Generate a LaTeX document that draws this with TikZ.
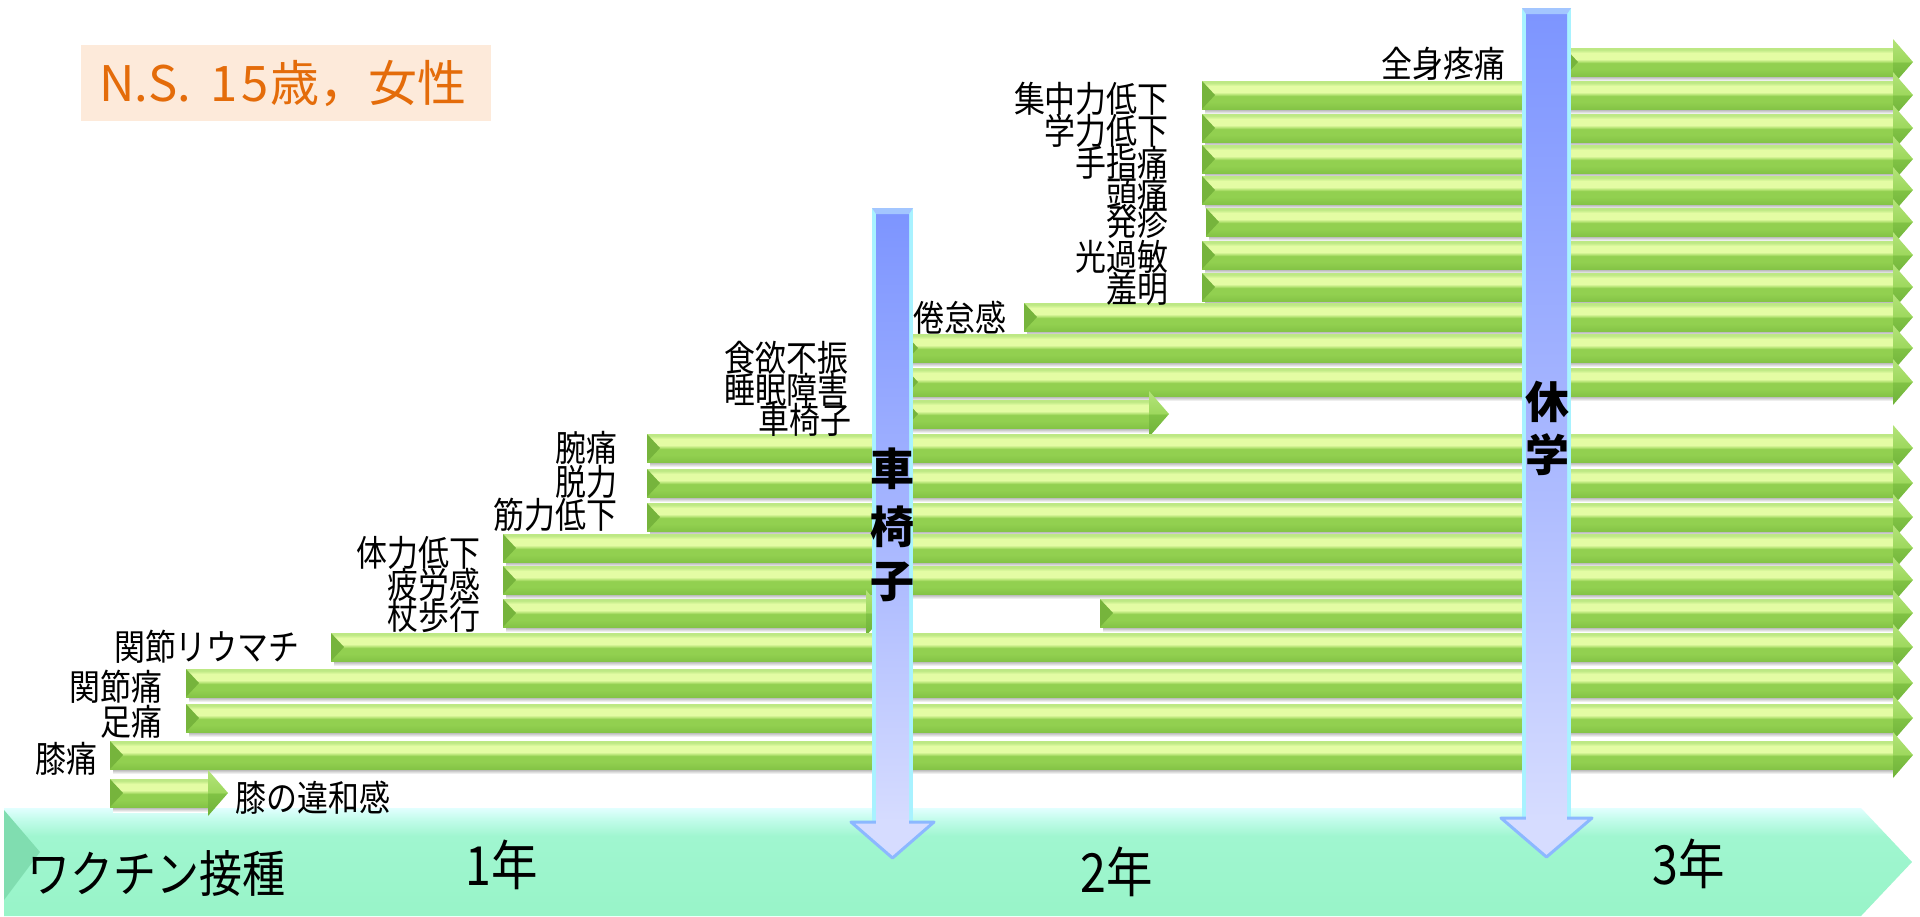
\documentclass[tikz,border=0pt]{standalone}
\usepackage{fontspec}
\newfontfamily\jp[FakeStretch=0.86]{Noto Sans CJK JP}
\newfontfamily\jpw{Noto Sans CJK JP}
\definecolor{gD}{HTML}{84C446}
\definecolor{gM}{HTML}{92D050}
\definecolor{gL}{HTML}{E4FCA4}
\definecolor{gT}{HTML}{BDE884}
\definecolor{hD}{HTML}{6FB23A}
\definecolor{hM}{HTML}{80C244}
\definecolor{hL}{HTML}{9ED85E}
\definecolor{hT}{HTML}{B4E47A}
\definecolor{bvl}{HTML}{76B43C}
\definecolor{bB}{HTML}{98F4C8}
\definecolor{bM}{HTML}{A0F6D0}
\definecolor{bL}{HTML}{C4FCEC}
\definecolor{bT}{HTML}{E2FFFF}
\definecolor{bev}{HTML}{80DDB0}
\definecolor{vB}{HTML}{D6DCFF}
\definecolor{vM}{HTML}{AEBCFF}
\definecolor{vT}{HTML}{7D95FF}
\definecolor{vrim}{HTML}{A8F2FF}
\definecolor{vhead}{HTML}{8CB8FF}
\definecolor{titlebg}{HTML}{FDEADA}
\definecolor{titlefg}{HTML}{E46C0A}
\pgfdeclareverticalshading{shaftsh}{100bp}{color(0bp)=(gD); color(25bp)=(gD); color(38bp)=(gM); color(48bp)=(gM); color(55bp)=(gL); color(66bp)=(gL); color(72bp)=(gT); color(100bp)=(gT)}
\pgfdeclareverticalshading{headsh}{100bp}{color(0bp)=(hD); color(25bp)=(hD); color(49bp)=(hM); color(51bp)=(hL); color(75bp)=(hT); color(100bp)=(hT)}
\pgfdeclareverticalshading{bansh}{100bp}{color(0bp)=(bB); color(25bp)=(bB); color(62bp)=(bM); color(70bp)=(bL); color(75bp)=(bT); color(100bp)=(bT)}
\pgfdeclareverticalshading{barsh}{100bp}{color(0bp)=(vB); color(25bp)=(vB); color(45bp)=(vM); color(75bp)=(vT); color(100bp)=(vT)}
\newcommand\garrow[3]{%
  \shade[top color=gray!65, bottom color=white] (#1+3,#2+14) rectangle (#3,#2+19);
  \shade[shading=shaftsh] (#1,#2-14) rectangle (#3+1,#2+14);
  \fill[bvl] (#1,#2-14) -- (#1+13,#2) -- (#1,#2+14) -- cycle;
  \shade[shading=headsh] (#3,#2-23) -- (#3+20,#2) -- (#3,#2+23) -- cycle;
}
\newcommand\vbar[5]{% xl, xr, top, headbase, tip
  \fill[vrim] (#1,#3) rectangle (#2,#4);
  \shade[shading=barsh] (#1+4,#3+6) rectangle (#2-4,#4);
  \fill[vhead!80] (#1,#3) -- (#2,#3) -- (#2-4,#3+6) -- (#1+4,#3+6) -- cycle;
  \filldraw[fill=vB, draw=vhead, line width=3pt, line join=round] (#1-21,#4) -- (#2+21,#4) -- ({(#1+#2)/2},#5) -- cycle;
  \fill[vB] (#1+4,#4-3) rectangle (#2-4,#4+2);
}
\tikzset{
  lab/.style={font=\jp\fontsize{36}{36}\selectfont, inner sep=0pt, anchor=east, text=black},
  yr/.style={font=\jp\fontsize{54}{54}\selectfont, inner sep=0pt, text=black},
  vacc/.style={font=\jp\fontsize{50}{50}\selectfont, inner sep=0pt, text=black},
  bartxt/.style={font=\jpw\bfseries\fontsize{44}{44}\selectfont, inner sep=0pt, text=black}
}
\begin{document}
\begin{tikzpicture}[x=1pt,y=-1pt]
\useasboundingbox (0,0) rectangle (1920,916);
\fill[white] (0,0) rectangle (1920,916);
% title
\fill[titlebg] (81,45) rectangle (491,121);
\node[font=\jpw\fontsize{49}{49}\selectfont, text=titlefg, inner sep=0pt] (title) at (283,84) {N.S.\hspace{0.4em}1\hspace{0.08em}5\hspace{0.04em}歳，女性};
% banner
\shade[shading=bansh] (4,808) -- (1861,808) -- (1912,862) -- (1861,916) -- (4,916) -- cycle;
\fill[bev] (4,810) -- (40,852) -- (4,900) -- cycle;
% green arrows
\garrow{1565}{62}{1893}
\garrow{1202}{95}{1893}
\garrow{1202}{128}{1893}
\garrow{1202}{159}{1893}
\garrow{1202}{190}{1893}
\garrow{1206}{222}{1893}
\garrow{1202}{255}{1893}
\garrow{1202}{287}{1893}
\garrow{1024}{317}{1893}
\garrow{905}{348}{1893}
\garrow{905}{382}{1893}
\garrow{905}{414}{1149}
\garrow{647}{448}{1893}
\garrow{647}{483}{1893}
\garrow{647}{517}{1893}
\garrow{503}{548}{1893}
\garrow{503}{580}{1893}
\garrow{503}{613}{866}
\garrow{1100}{613}{1893}
\garrow{331}{647}{1893}
\garrow{186}{683}{1893}
\garrow{186}{718}{1893}
\garrow{110}{755}{1893}
\garrow{110}{793}{208}
% vertical bars
\vbar{872}{913}{208}{822}{858}
\vbar{1522}{1571}{8}{818}{857}
% bar texts
\node[bartxt] (k1) at (892,469) {車};
\node[bartxt] (k2) at (892,527) {椅};
\node[bartxt] (k3) at (892,582) {子};
\node[bartxt] (q1) at (1547,402) {休};
\node[bartxt] (q2) at (1547,455) {学};
% labels
\node[lab] (l1) at (1506,64) {全身疼痛};
\node[lab] (l2) at (1169,99) {集中力低下};
\node[lab] (l3) at (1169,131) {学力低下};
\node[lab] (l4) at (1169,163) {手指痛};
\node[lab] (l5) at (1169,194) {頭痛};
\node[lab] (l6) at (1169,222) {発疹};
\node[lab] (l7) at (1169,257) {光過敏};
\node[lab] (l8) at (1169,289) {羞明};
\node[lab] (l9) at (1007,318) {倦怠感};
\node[lab] (l10) at (849,358) {食欲不振};
\node[lab] (l11) at (849,390) {睡眠障害};
\node[lab] (l12) at (852,420) {車椅子};
\node[lab] (l13) at (618,448) {腕痛};
\node[lab] (l14) at (618,482) {脱力};
\node[lab] (l15) at (618,515) {筋力低下};
\node[lab] (l16) at (481,553) {体力低下};
\node[lab] (l17) at (481,585) {疲労感};
\node[lab] (l18) at (481,616) {杖歩行};
\node[lab] (l19) at (300,647) {関節リウマチ};
\node[lab] (l20) at (163,687) {関節痛};
\node[lab] (l21) at (163,722) {足痛};
\node[lab] (l22) at (98,759) {膝痛};
\node[lab, anchor=west] (l23) at (235,798) {膝の違和感};
% banner texts
\node[vacc, anchor=west] (vac) at (27,874) {ワクチン接種};
\node[yr] (y1) at (502,865) {1年};
\node[yr] (y2) at (1117,872) {2年};
\node[yr] (y3) at (1689,864) {3年};
\end{tikzpicture}
\end{document}
